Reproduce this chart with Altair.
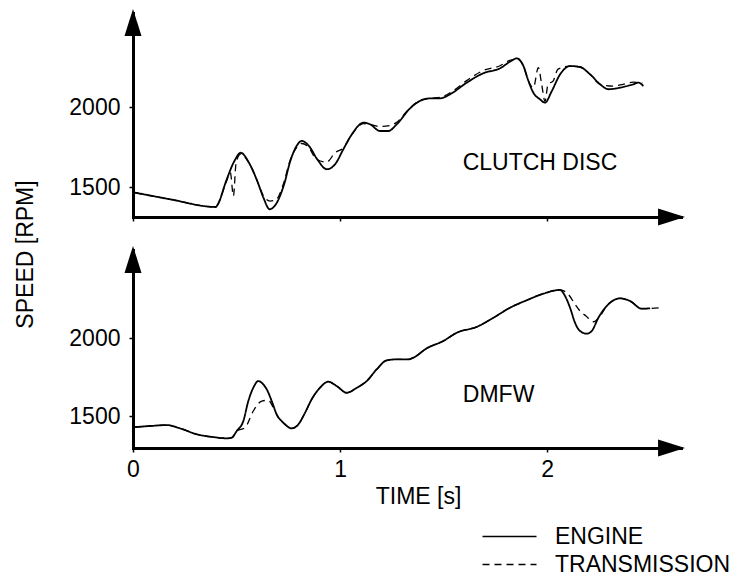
import altair as alt
import pandas as pd

FONT = "Liberation Sans"
FS = 23

# ---------------- data ----------------
CLUTCH_ENGINE_T = [0.01, 0.18, 0.40, 0.41, 0.45, 0.49, 0.52, 0.56, 0.60, 0.63, 0.66, 0.69, 0.73,
                   0.76, 0.79, 0.815, 0.85, 0.89, 0.936, 0.976, 1.016, 1.057, 1.113, 1.145, 1.193,
                   1.233, 1.274, 1.338, 1.386, 1.435, 1.483, 1.531, 1.612, 1.692, 1.773, 1.821,
                   1.854, 1.886, 1.910, 1.934, 1.966, 1.990, 2.023, 2.063, 2.111, 2.159, 2.208,
                   2.256, 2.296, 2.353, 2.417, 2.441, 2.465]
CLUTCH_ENGINE_RPM = [1465, 1423, 1375, 1392, 1538, 1663, 1714, 1652, 1538, 1433, 1361, 1392, 1517,
                     1663, 1756, 1788, 1756, 1673, 1611, 1642, 1736, 1829, 1902, 1892, 1850,
                     1850, 1892, 1991, 2038, 2054, 2054, 2079, 2152, 2211, 2242, 2283,
                     2304, 2256, 2163, 2089, 2048, 2027, 2100, 2204, 2256, 2250, 2204,
                     2142, 2111, 2121, 2142, 2152, 2131]

CLUTCH_TRANS_T = [0.01, 0.18, 0.40, 0.41, 0.45, 0.47, 0.485, 0.498, 0.52, 0.56, 0.60, 0.63, 0.662,
                  0.694, 0.726, 0.758, 0.791, 0.815, 0.847, 0.887, 0.936, 0.976, 1.016, 1.057,
                  1.113, 1.145, 1.193, 1.24, 1.274, 1.338, 1.386, 1.435, 1.483, 1.531, 1.612,
                  1.692, 1.773, 1.821, 1.854, 1.886, 1.910, 1.934, 1.958, 1.974, 1.990, 2.005,
                  2.029, 2.053, 2.111, 2.159, 2.208, 2.256, 2.319, 2.353, 2.417, 2.46]
CLUTCH_TRANS_RPM = [1464, 1423, 1375, 1392, 1530, 1590, 1444, 1652, 1705, 1652, 1538, 1445, 1412,
                    1425, 1517, 1663, 1748, 1772, 1750, 1673, 1656, 1714, 1745, 1829,
                    1896, 1890, 1878, 1884, 1905, 1995, 2040, 2054, 2060, 2088, 2165,
                    2228, 2258, 2292, 2300, 2256, 2163, 2121, 2246, 2142, 2035, 2144,
                    2162, 2237, 2256, 2250, 2204, 2142, 2131, 2138, 2155, 2150]

DMFW_ENGINE_T = [0.01, 0.082, 0.163, 0.227, 0.308, 0.388, 0.453, 0.477, 0.501, 0.533, 0.557, 0.581,
                 0.605, 0.629, 0.646, 0.670, 0.694, 0.726, 0.767, 0.799, 0.831, 0.863, 0.903,
                 0.943, 0.984, 1.032, 1.081, 1.129, 1.177, 1.226, 1.274, 1.330, 1.354, 1.419,
                 1.499, 1.564, 1.660, 1.741, 1.821, 1.902, 1.982, 2.063, 2.087, 2.111, 2.135,
                 2.159, 2.192, 2.216, 2.248, 2.288, 2.353, 2.401, 2.457, 2.498]
DMFW_ENGINE_RPM = [1429, 1436, 1442, 1421, 1383, 1365, 1357, 1361, 1404, 1468, 1596, 1681,
                   1724, 1703, 1671, 1596, 1511, 1457, 1421, 1447, 1521, 1607, 1681,
                   1720, 1692, 1649, 1681, 1724, 1799, 1857, 1863, 1863, 1874, 1934,
                   1981, 2034, 2071, 2130, 2194, 2242, 2284, 2308, 2269, 2194, 2098,
                   2045, 2028, 2045, 2130, 2205, 2254, 2237, 2188, 2190]

DMFW_TRANS_T = [0.01, 0.082, 0.163, 0.227, 0.308, 0.388, 0.453, 0.477, 0.501, 0.541, 0.581, 0.622,
                0.654, 0.678, 0.702, 0.726, 0.767, 0.799, 0.831, 0.863, 0.903, 0.943, 0.984,
                1.032, 1.081, 1.129, 1.177, 1.226, 1.274, 1.330, 1.354, 1.419, 1.499, 1.564,
                1.660, 1.741, 1.821, 1.902, 1.982, 2.063, 2.103, 2.135, 2.159, 2.188, 2.224,
                2.256, 2.288, 2.353, 2.401, 2.457, 2.546]
DMFW_TRANS_RPM = [1429, 1436, 1442, 1421, 1383, 1365, 1357, 1361, 1404, 1425, 1532, 1596,
                  1601, 1553, 1489, 1457, 1421, 1447, 1521, 1607, 1681, 1720, 1692,
                  1649, 1681, 1724, 1799, 1857, 1863, 1863, 1874, 1934, 1981, 2034,
                  2071, 2130, 2194, 2242, 2284, 2308, 2280, 2216, 2173, 2141, 2104,
                  2141, 2205, 2254, 2237, 2188, 2194]

SERIES = ["ENGINE", "TRANSMISSION"]
PANEL_LABELS = ["CLUTCH DISC", "DMFW"]
PANEL_LABEL_T = [1.966, 1.766]
PANEL_LABEL_RPM = [1648, 1636]
X_TICKS = [0, 1, 2]
Y_TICKS = [1500, 2000]
X_MAX = 2.647
TOP_DOMAIN = [1312.5, 2587.5]
BOT_DOMAIN = [1295, 2564]

UP_ARROW = "M0,-0.3L0.63,1.7L-0.63,1.7Z"
RIGHT_ARROW = "M0.3,0L-1.7,-0.63L-1.7,0.63Z"
LEGEND_LINE = "M-2,0L2,0"

W = 548
TOP_H = 204
BOT_H = 198

dash_scale = alt.Scale(domain=SERIES, range=[[1, 0], [7, 5]])

axis_common = dict(domainWidth=3, domainColor="black", domainCap="square", tickColor="black",
                   tickWidth=1.5, tickSize=4, grid=False, labelFont=FONT, labelFontSize=FS,
                   labelColor="black", titleFont=FONT, titleFontSize=FS, titleColor="black",
                   titleFontWeight="normal")


def panel(eng_t, eng_rpm, tr_t, tr_rpm, ydom, height, idx, bottom):
    eng = pd.DataFrame({"t": eng_t, "rpm": eng_rpm, "series": SERIES[0]})
    tr = pd.DataFrame({"t": tr_t, "rpm": tr_rpm, "series": SERIES[1]})
    xscale = alt.Scale(domain=[0, X_MAX], nice=False, zero=False)
    yscale = alt.Scale(domain=ydom, nice=False, zero=False)

    if bottom:
        xaxis = alt.Axis(values=X_TICKS, labelPadding=6, labelFlush=False, title="TIME [s]",
                         titleX=285, titleY=55.5, titleBaseline="alphabetic", titleAlign="center",
                         **axis_common)
        yaxis = alt.Axis(values=Y_TICKS, format="d", labelPadding=9, title=None, **axis_common)
        legend = alt.Legend(title=None, orient="none", legendX=362, legendY=272,
                            symbolType=LEGEND_LINE, symbolSize=729, symbolStrokeWidth=1.5,
                            symbolStrokeColor="black", symbolFillColor="transparent",
                            labelFont=FONT, labelFontSize=FS,
                            labelColor="black", labelOffset=31, rowPadding=1, padding=0,
                            labelLimit=400)
    else:
        xaxis = alt.Axis(values=X_TICKS, labels=False, title=None, **axis_common)
        yaxis = alt.Axis(values=Y_TICKS, format="d", labelPadding=9, title="SPEED [RPM]",
                         titleAngle=270, titleX=-101, titleY=241, titleBaseline="alphabetic",
                         titleAlign="center", **axis_common)
        legend = None

    tr_line = alt.Chart(tr).mark_line(color="black", strokeWidth=1.3, interpolate="monotone").encode(
        strokeDash=alt.StrokeDash("series:N", scale=dash_scale, legend=legend),
    )
    eng_line = alt.Chart(eng).mark_line(color="black", strokeWidth=1.8, interpolate="monotone").encode(
        strokeDash=alt.StrokeDash("series:N", scale=dash_scale, legend=legend),
    )
    lab = alt.Chart(pd.DataFrame({"t": [PANEL_LABEL_T[idx]], "rpm": [PANEL_LABEL_RPM[idx]],
                                  "label": [PANEL_LABELS[idx]]})).mark_text(
        font=FONT, fontSize=FS, color="black", align="center", baseline="middle").encode(
        text="label:N",
    )
    up = alt.Chart(pd.DataFrame({"t": [0], "rpm": [ydom[1]]})).mark_point(
        shape=UP_ARROW, size=729, filled=True, color="black", opacity=1, strokeWidth=0)
    right = alt.Chart(pd.DataFrame({"t": [X_MAX], "rpm": [ydom[0]]})).mark_point(
        shape=RIGHT_ARROW, size=729, filled=True, color="black", opacity=1, strokeWidth=0)
    return alt.layer(tr_line, eng_line, lab, up, right).encode(
        x=alt.X("t:Q", scale=xscale, axis=xaxis),
        y=alt.Y("rpm:Q", scale=yscale, axis=yaxis),
    ).properties(width=W, height=height)


top = panel(CLUTCH_ENGINE_T, CLUTCH_ENGINE_RPM, CLUTCH_TRANS_T, CLUTCH_TRANS_RPM,
            TOP_DOMAIN, TOP_H, 0, False)
bot = panel(DMFW_ENGINE_T, DMFW_ENGINE_RPM, DMFW_TRANS_T, DMFW_TRANS_RPM,
            BOT_DOMAIN, BOT_H, 1, True)

chart = alt.vconcat(top, bot, spacing=33, bounds="flush").resolve_scale(
    strokeDash="independent", x="independent", y="independent"
).resolve_legend(strokeDash="independent").properties(
    padding={"left": 14, "top": 8, "right": 5, "bottom": 5},
    background="white",
).configure_view(stroke=None)

chart.save("out.html", embed_options={"renderer": "svg", "actions": False})
